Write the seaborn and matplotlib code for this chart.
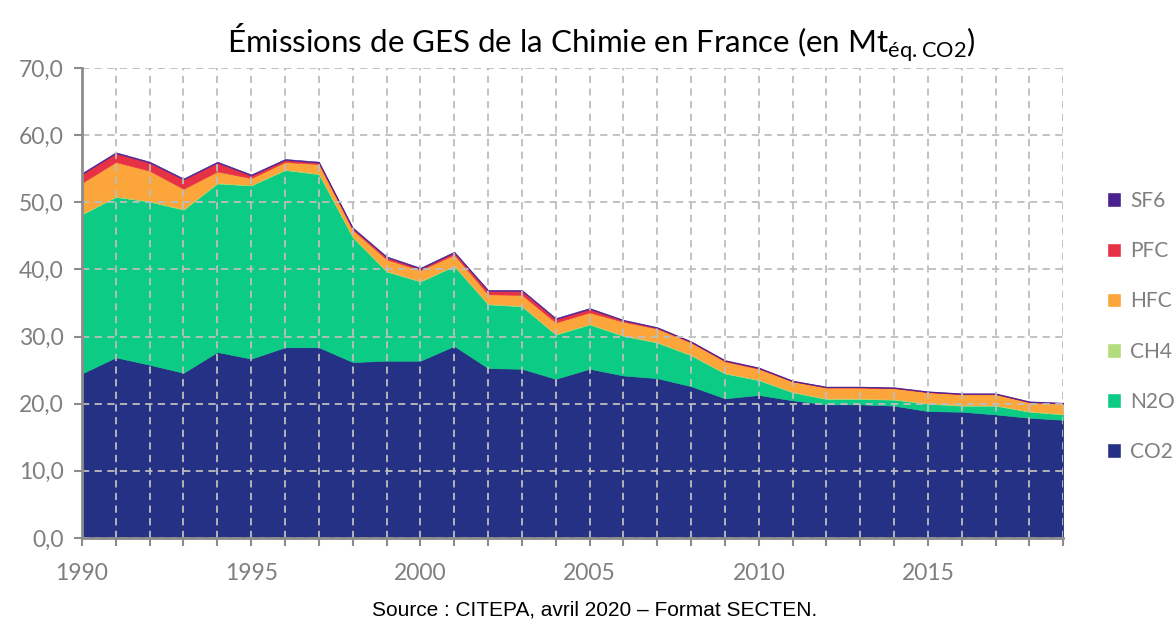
import numpy as np
import pandas as pd
import matplotlib
matplotlib.use('Agg')
import matplotlib.pyplot as plt
import seaborn as sns
from matplotlib.patches import Patch

# Emissions by gas, Mt CO2 eq
years = list(range(1990, 2020))
co2 = [24.5, 26.9, 25.8, 24.6, 27.7, 26.7, 28.4, 28.4, 26.2, 26.4,
       26.4, 28.6, 25.3, 25.2, 23.7, 25.2, 24.2, 23.8, 22.6, 20.8,
       21.3, 20.5, 19.9, 19.9, 19.7, 18.9, 18.8, 18.4, 17.9, 17.6]
n2o = [23.7, 23.9, 24.3, 24.3, 25.1, 25.8, 26.4, 25.8, 18.6, 13.3,
       11.8, 11.9, 9.5, 9.3, 6.6, 6.6, 5.9, 5.3, 4.6, 3.7,
       2.2, 1.2, 0.8, 0.8, 0.9, 1.1, 0.9, 1.3, 0.9, 0.8]
ch4 = [0.1] * 30
hfc = [4.6, 5.1, 4.5, 3.0, 1.7, 1.0, 1.1, 1.4, 1.0, 1.7,
       1.6, 1.6, 1.4, 1.6, 1.7, 1.7, 2.0, 2.0, 1.8, 1.7,
       1.6, 1.5, 1.6, 1.6, 1.6, 1.6, 1.6, 1.6, 1.3, 1.5]
pfc = [1.3, 1.3, 1.2, 1.4, 1.3, 0.4, 0.3, 0.2, 0.2, 0.3,
       0.2, 0.3, 0.5, 0.6, 0.5, 0.5, 0.2, 0.1, 0.1, 0.1,
       0.1, 0.05, 0.05, 0.05, 0.05, 0.05, 0.05, 0.05, 0.05, 0.05]
sf6 = [0.15, 0.15, 0.15, 0.15, 0.15, 0.15, 0.15, 0.15, 0.15, 0.15,
       0.15, 0.15, 0.15, 0.15, 0.15, 0.15, 0.1, 0.1, 0.1, 0.1,
       0.1, 0.1, 0.1, 0.1, 0.1, 0.1, 0.1, 0.1, 0.1, 0.1]

gases = ['CO2', 'N2O', 'CH4', 'HFC', 'PFC', 'SF6']
colors = ['#243185', '#0ccb84', '#b3dc7c', '#fba53b', '#e63244', '#4a2191']

data = pd.DataFrame({'CO2': co2, 'N2O': n2o, 'CH4': ch4, 'HFC': hfc,
                     'PFC': pfc, 'SF6': sf6}, index=years)

sns.set_theme(style='white')
plt.rcParams['font.family'] = ['Lato', 'DejaVu Sans']
plt.rcParams['mathtext.fontset'] = 'custom'
plt.rcParams['mathtext.rm'] = 'Lato'

fig = plt.figure(figsize=(11.76, 6.21), dpi=100)
ax = fig.add_axes([0.0697, 0.1337, 0.8345, 0.7568])

ax.stackplot(data.index, [data[g] for g in gases], colors=colors,
             labels=gases, linewidth=0.4, edgecolor='face')

# Grid
ax.set_xlim(1990, 2019)
ax.set_ylim(0, 70)
ax.set_xticks(range(1990, 2016, 5))
ax.set_xticks(years, minor=True)
ax.set_yticks(np.arange(0, 71, 10))
ax.set_yticklabels([f'{v:.1f}'.replace('.', ',') for v in np.arange(0, 71, 10)])
ax.grid(True, which='both', axis='x', color='#bdbdbd', linestyle=(0, (4, 3)), linewidth=1.3)
ax.grid(True, which='major', axis='y', color='#bdbdbd', linestyle=(0, (4, 3)), linewidth=1.3)
ax.set_axisbelow(False)
for g in ax.get_xgridlines() + ax.get_ygridlines():
    g.set_zorder(0.5)

for s in ['top', 'right']:
    ax.spines[s].set_visible(False)
for s in ['left', 'bottom']:
    ax.spines[s].set_color('#8c8c8c')
    ax.spines[s].set_linewidth(2)
    ax.spines[s].set_zorder(3)

ax.tick_params(axis='both', which='major', colors='#8c8c8c', labelcolor='#7f7f7f',
               labelsize=16.5, length=6, width=1.5, direction='out', left=True, bottom=True)
ax.tick_params(axis='x', which='minor', colors='#8c8c8c', length=6, width=1.5, bottom=True)
ax.tick_params(axis='x', which='major', pad=12)
ax.tick_params(axis='y', which='major', pad=7)

ax.set_title('Émissions de GES de la Chimie en France (en Mt$_{\\mathrm{éq.CO2}}$)',
             fontsize=22.5, color='black', pad=11, x=0.529)

handles = [Patch(facecolor=c, label=g) for g, c in zip(gases, colors)][::-1]
leg = ax.legend(handles=handles, loc='center left', bbox_to_anchor=(1.044, 0.45),
                frameon=False, fontsize=15, labelspacing=1.45, borderpad=0,
                borderaxespad=0, handlelength=0.7, handleheight=0.7,
                handletextpad=0.45)
for t in leg.get_texts():
    t.set_color('#7f7f7f')

fig.text(0.506, 0.003, 'Source : CITEPA, avril 2020 – Format SECTEN.',
         ha='center', va='bottom', fontsize=15, family='Liberation Sans', color='black')

fig.savefig('out.png', dpi=100)
